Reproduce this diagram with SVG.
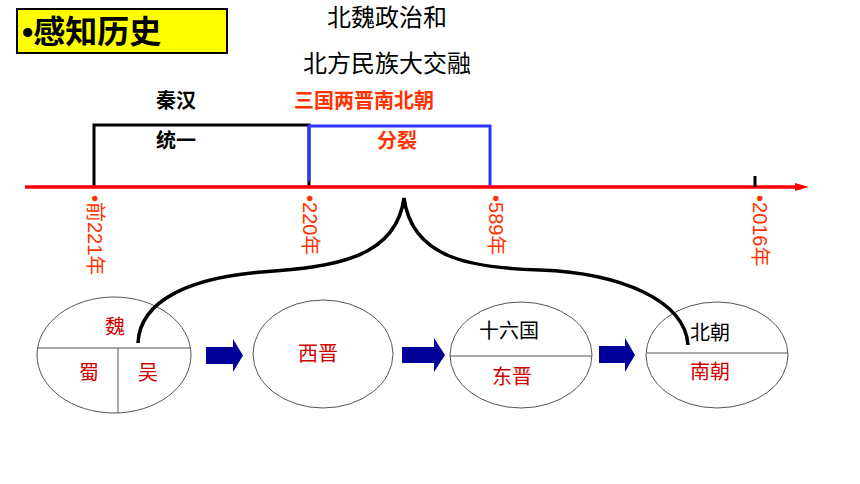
<svg xmlns="http://www.w3.org/2000/svg" width="860" height="484" viewBox="0 0 860 484">
<style>
  text { font-family: "Liberation Sans", "Noto Sans CJK SC", sans-serif; }
  .t { font-size: 24px; fill: #000; text-anchor: middle; }
  .hb { font-size: 20px; font-weight: bold; text-anchor: middle; }
  .yr { font-size: 20px; fill: #FF3300; dominant-baseline: central; }
  .ov { fill: #fff; stroke: #555; stroke-width: 1; }
  .dv { stroke: #555; stroke-width: 1; }
  .lb { font-size: 20px; text-anchor: middle; dominant-baseline: central; }
  .red { fill: #D00000; }
  .blk { fill: #000; }
  .arr { fill: #000099; }
</style>
<defs>
  <marker id="ah" markerWidth="14" markerHeight="8" refX="0" refY="4" orient="auto" markerUnits="userSpaceOnUse">
    <path d="M0,0 L14,4 L0,8 Z" fill="#FF0000"/>
  </marker>
</defs>

<g id="title">
  <rect x="17" y="9" width="210" height="44" fill="#FFFF00" stroke="#000" stroke-width="2"/>
  <text x="22" y="43" style="font-size:32px;font-weight:bold;fill:#000">•感知历史</text>
</g>

<g id="heading">
  <text class="t" x="387" y="26">北魏政治和</text>
  <text class="t" x="387" y="72">北方民族大交融</text>
</g>

<g id="periods">
  <text class="hb" x="176" y="108" fill="#000">秦汉</text>
  <text class="hb" x="364" y="108" fill="#FF3300">三国两晋南北朝</text>
  <text class="hb" x="176" y="148" fill="#000">统一</text>
  <text class="hb" x="397" y="148" fill="#FF3300">分裂</text>
</g>

<g id="years">
  <text class="yr" transform="translate(95,195) rotate(90)">•前221年</text>
  <text class="yr" transform="translate(310,195) rotate(90)">•220年</text>
  <text class="yr" transform="translate(496,195) rotate(90)">•589年</text>
  <text class="yr" transform="translate(760,195) rotate(90)">•2016年</text>
</g>

<g id="node-sanguo">
  <ellipse class="ov" cx="114" cy="355" rx="77" ry="58"/>
  <line class="dv" x1="37" y1="348" x2="191" y2="348"/>
  <line class="dv" x1="118" y1="348" x2="118" y2="413"/>
  <text class="lb red" x="115" y="327">魏</text>
  <text class="lb red" x="89" y="373">蜀</text>
  <text class="lb red" x="148" y="373">吴</text>
</g>

<g id="node-xijin">
  <ellipse class="ov" cx="323" cy="354" rx="70" ry="54"/>
  <text class="lb red" x="318" y="354">西晋</text>
</g>

<g id="node-dongjin">
  <ellipse class="ov" cx="521" cy="355" rx="71" ry="53"/>
  <line class="dv" x1="450" y1="356" x2="592" y2="356"/>
  <text class="lb blk" x="509" y="331">十六国</text>
  <text class="lb red" x="512" y="377">东晋</text>
</g>

<g id="node-nanbeichao">
  <ellipse class="ov" cx="717" cy="355" rx="71" ry="53"/>
  <line class="dv" x1="647" y1="353" x2="788" y2="353"/>
  <text class="lb blk" x="710" y="333">北朝</text>
  <text class="lb red" x="710" y="372">南朝</text>
</g>

<g id="connectors">
  <path d="M94,188 V125 H309 V188" fill="none" stroke="#000" stroke-width="3"/>
  <path d="M309,181 V126 H490 V186" fill="none" stroke="#3333FF" stroke-width="3"/>
  <line x1="25" y1="187" x2="795" y2="187" stroke="#FF0000" stroke-width="3.5" marker-end="url(#ah)"/>
  <line x1="755" y1="176" x2="755" y2="187" stroke="#000" stroke-width="3"/>
  <path d="M138,343 C140,300 190,278 262,272 C335,267 396,258 404,198 C412,258 470,268 540,270 C620,273 685,300 688,345" fill="none" stroke="#000" stroke-width="3.5"/>
  <path class="arr" d="M206,347 H233 V339 L243,355.5 L233,372 V364 H206 Z"/>
  <path class="arr" d="M402,347 H434 V338 L445,355 L434,372 V363 H402 Z"/>
  <path class="arr" d="M599,346 H625 V338 L635,355 L625,372 V363 H599 Z"/>
</g>
</svg>
